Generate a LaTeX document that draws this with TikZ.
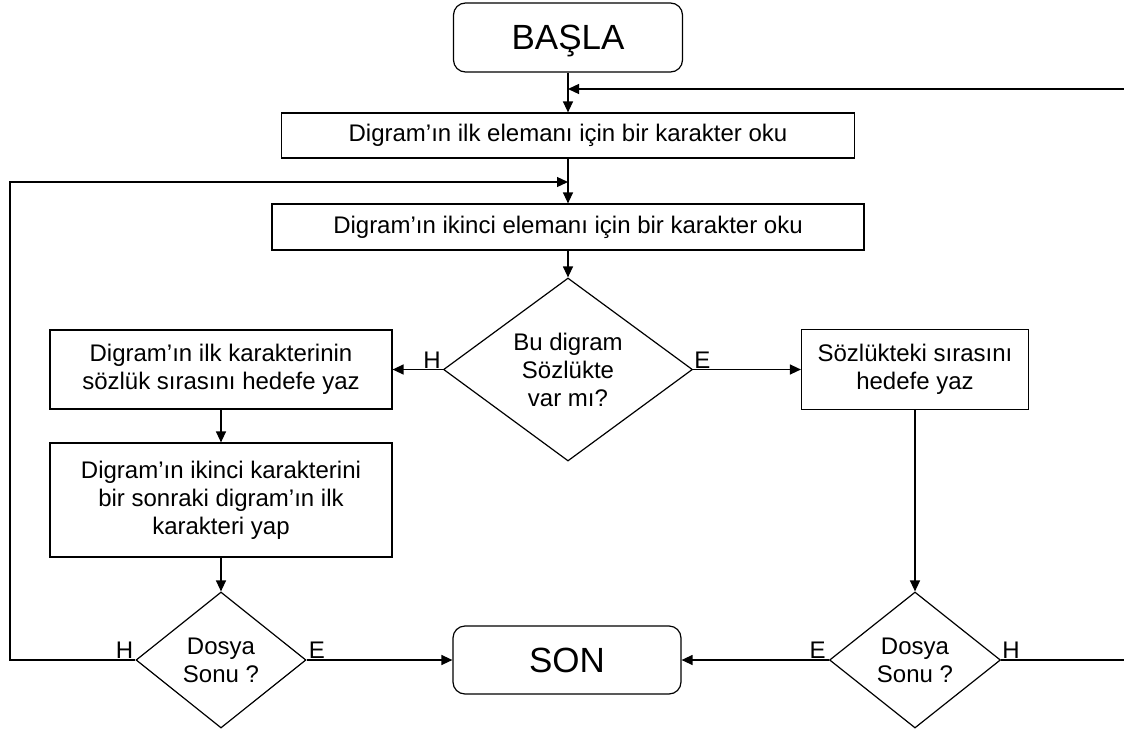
\documentclass[tikz,border=0pt]{standalone}
\usepackage{fontspec}
\setmainfont{Liberation Sans}
\usetikzlibrary{shapes.geometric,arrows.meta,calc}
\begin{document}
\begin{tikzpicture}[x=1pt,y=-1pt,
  base/.style={draw=black, line width=1.2pt, inner sep=0pt, align=center,
    font=\fontsize{24}{28}\selectfont},
  term/.style={base, rounded corners=12pt, text depth=0pt,
    font=\fontsize{35}{40}\selectfont},
  proc/.style={base, rectangle},
  decision/.style={base, diamond},
  flow/.style={line width=1.3pt, -{Triangle[length=11pt,width=10pt]}},
  tag/.style={inner sep=1pt, font=\fontsize{24}{28}\selectfont}]
\useasboundingbox (0,0) rectangle (1124,731);

% terminals
\node[term, minimum width=229pt, minimum height=69pt] (start) at (568,37.5) {BAŞLA};
\node[term, minimum width=228pt, minimum height=68pt] (son) at (567,660) {SON};

% main column
\node[proc, minimum width=573pt, minimum height=45pt] (b1) at (568,135.5)
  {Digram’ın ilk elemanı için bir karakter oku};
\node[proc, minimum width=592pt, minimum height=46pt] (b2) at (568,227)
  {Digram’ın ikinci elemanı için bir karakter oku};
\node[decision, minimum width=249pt, minimum height=171pt] (d1) at (568,369.5)
  {Bu digram\\Sözlükte\\var mı?};

% left branch
\node[proc, minimum width=342pt, minimum height=79pt] (l1) at (221,369.5)
  {Digram’ın ilk karakterinin\\sözlük sırasını hedefe yaz};
\node[proc, minimum width=342pt, minimum height=114pt] (l2) at (221,500)
  {Digram’ın ikinci karakterini\\bir sonraki digram’ın ilk\\karakteri yap};
\node[decision, minimum width=170pt, minimum height=136pt] (d2) at (221,660)
  {Dosya\\Sonu ?};

% right branch
\node[proc, minimum width=227pt, minimum height=80pt] (r1) at (915,369.5)
  {Sözlükteki sırasını\\hedefe yaz};
\node[decision, minimum width=171pt, minimum height=136pt] (d3) at (915,660)
  {Dosya\\Sonu ?};

% junctions on the main column and the return rails
\coordinate (j1) at (568,89);
\coordinate (j2) at (568,182);
\coordinate (railL) at (10,660);
\coordinate (railR) at (1127,660);

% connectors
\draw[flow] (start) -- (b1);
\draw[flow] (b1) -- (b2);
\draw[flow] (b2) -- (d1);
\draw[flow] (d1.west) -- (l1.east);
\draw[flow] (d1.east) -- (r1.west);
\draw[flow] (l1) -- (l2);
\draw[flow] (l2) -- (d2);
\draw[flow] (r1) -- (d3);
\draw[flow] (d2.east) -- (son.west);
\draw[flow] (d3.west) -- (son.east);
\draw[flow] (d2.west) -- (railL) |- (j2);
\draw[flow] (d3.east) -- (railR) |- (j1);

% branch labels
\node[tag, anchor=south east, xshift=-1pt] at (d1.west) {H};
\node[tag, anchor=south west] at (d1.east) {E};
\node[tag, anchor=south east, xshift=-1pt] at (d2.west) {H};
\node[tag, anchor=south west, xshift=1pt] at (d2.east) {E};
\node[tag, anchor=south east, xshift=-2pt] at (d3.west) {E};
\node[tag, anchor=south west] at (d3.east) {H};
\end{tikzpicture}
\end{document}
